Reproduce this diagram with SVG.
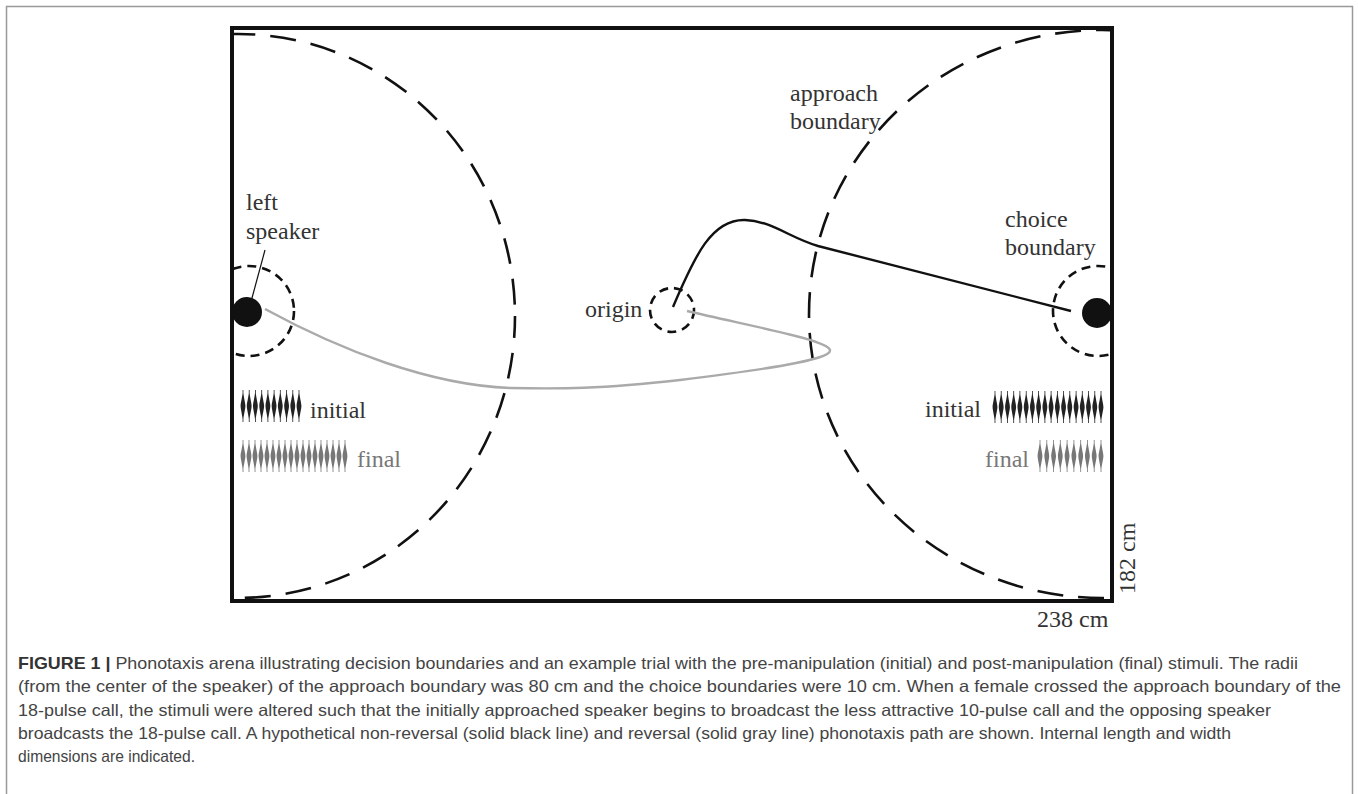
<svg xmlns="http://www.w3.org/2000/svg" width="1358" height="794" viewBox="0 0 1358 794">
<defs>
<style>
.lbl{font-family:"Liberation Serif","Times New Roman",serif;font-size:24px;fill:#333}
.fin{fill:#777}
.cap{font-family:"Liberation Sans Narrow","Liberation Sans",Arial,sans-serif;font-size:16.5px;fill:#444}
.big{fill:none;stroke:#111;stroke-width:2.6;stroke-dasharray:26 15}
.small{fill:none;stroke:#111;stroke-width:2.6;stroke-dasharray:9 6}
</style>
<clipPath id="arena"><rect x="233" y="29" width="877" height="571"/></clipPath>
<filter id="soft" x="-1" y="-0.2" width="3" height="1.4"><feGaussianBlur stdDeviation="0.45"/></filter>
<path id="p" d="M0,-16 C0.8,-8 2.4,-3 2.4,0 C2.4,3 0.8,8 0,16 C-0.8,8 -2.4,3 -2.4,0 C-2.4,-3 -0.8,-8 0,-16Z M-0.4,-16 h0.8 v32 h-0.8Z"/>
</defs>
<rect x="0" y="0" width="1358" height="794" fill="#fff"/>
<rect x="6.5" y="6.5" width="1346" height="820" fill="none" stroke="#999" stroke-width="1.5"/>

<g id="arena-box">
<rect x="232" y="28" width="880" height="573" fill="none" stroke="#111" stroke-width="4"/>
</g>

<g id="approach-boundaries" clip-path="url(#arena)">
<ellipse class="big" cx="238" cy="316" rx="277" ry="282" stroke-dashoffset="4"/>
<ellipse class="big" cx="1102" cy="314" rx="293" ry="284"/>
</g>

<g id="left-speaker">
<circle class="small" cx="249" cy="311" r="45" clip-path="url(#arena)"/>
<circle cx="247" cy="312" r="15" fill="#111"/>
<line x1="265" y1="250" x2="252" y2="298" stroke="#111" stroke-width="1.2"/>
<text class="lbl" x="246" y="210">left</text>
<text class="lbl" x="246" y="239">speaker</text>
</g>

<g id="right-speaker">
<circle class="small" cx="1098" cy="311" r="45" clip-path="url(#arena)"/>
<circle cx="1097" cy="313" r="15" fill="#111"/>
<text class="lbl" x="1005" y="227">choice</text>
<text class="lbl" x="1005" y="255">boundary</text>
</g>

<g id="origin">
<circle class="small" cx="672" cy="310" r="22" stroke-dasharray="7 5"/>
<text class="lbl" x="585" y="317">origin</text>
</g>

<g id="approach-label">
<text class="lbl" x="790" y="101">approach</text>
<text class="lbl" x="790" y="129">boundary</text>
</g>

<g id="paths">
<path d="M673,307 C695,255 712,219 745,220 C772,221 790,238 818,246 L1071,311" fill="none" stroke="#111" stroke-width="2.4"/>
<path d="M687,311 C750,326 828,340 830,350 C832,360 760,370 680,380 C600,389 560,389 510,388 C430,385 340,350 265,309" fill="none" stroke="#aaa" stroke-width="2.4"/>
</g>

<g id="left-stimuli">
<g fill="#222" filter="url(#soft)">
<use href="#p" x="243" y="406"/><use href="#p" x="249.2" y="406"/><use href="#p" x="255.4" y="406"/><use href="#p" x="261.7" y="406"/><use href="#p" x="267.9" y="406"/><use href="#p" x="274.1" y="406"/><use href="#p" x="280.3" y="406"/><use href="#p" x="286.6" y="406"/><use href="#p" x="292.8" y="406"/><use href="#p" x="299" y="406"/>
</g>
<g fill="#777" filter="url(#soft)">
<use href="#p" x="243" y="456"/><use href="#p" x="249" y="456"/><use href="#p" x="255" y="456"/><use href="#p" x="261" y="456"/><use href="#p" x="267" y="456"/><use href="#p" x="273" y="456"/><use href="#p" x="279" y="456"/><use href="#p" x="285" y="456"/><use href="#p" x="291" y="456"/><use href="#p" x="297" y="456"/><use href="#p" x="303" y="456"/><use href="#p" x="309" y="456"/><use href="#p" x="315" y="456"/><use href="#p" x="321" y="456"/><use href="#p" x="327" y="456"/><use href="#p" x="333" y="456"/><use href="#p" x="339" y="456"/><use href="#p" x="345" y="456"/>
</g>
<text class="lbl" x="310" y="418">initial</text>
<text class="lbl fin" x="357" y="467">final</text>
</g>

<g id="right-stimuli">
<g fill="#222" filter="url(#soft)">
<use href="#p" x="995" y="407"/><use href="#p" x="1001.2" y="407"/><use href="#p" x="1007.5" y="407"/><use href="#p" x="1013.7" y="407"/><use href="#p" x="1019.9" y="407"/><use href="#p" x="1026.2" y="407"/><use href="#p" x="1032.4" y="407"/><use href="#p" x="1038.6" y="407"/><use href="#p" x="1044.9" y="407"/><use href="#p" x="1051.1" y="407"/><use href="#p" x="1057.4" y="407"/><use href="#p" x="1063.6" y="407"/><use href="#p" x="1069.8" y="407"/><use href="#p" x="1076.1" y="407"/><use href="#p" x="1082.3" y="407"/><use href="#p" x="1088.5" y="407"/><use href="#p" x="1094.8" y="407"/><use href="#p" x="1101" y="407"/>
</g>
<g fill="#777" filter="url(#soft)">
<use href="#p" x="1040" y="456"/><use href="#p" x="1046.8" y="456"/><use href="#p" x="1053.6" y="456"/><use href="#p" x="1060.3" y="456"/><use href="#p" x="1067.1" y="456"/><use href="#p" x="1073.9" y="456"/><use href="#p" x="1080.7" y="456"/><use href="#p" x="1087.4" y="456"/><use href="#p" x="1094.2" y="456"/><use href="#p" x="1101" y="456"/>
</g>
<text class="lbl" x="925" y="417">initial</text>
<text class="lbl fin" x="985" y="467">final</text>
</g>

<g id="dimensions">
<text class="lbl" x="1037" y="627">238 cm</text>
<text class="lbl" transform="translate(1135,594) rotate(-90)">182 cm</text>
</g>

<g id="caption">
<text class="cap" x="18" y="669" textLength="1280" lengthAdjust="spacingAndGlyphs"><tspan font-weight="bold" fill="#333">FIGURE 1 |</tspan> Phonotaxis arena illustrating decision boundaries and an example trial with the pre-manipulation (initial) and post-manipulation (final) stimuli. The radii</text>
<text class="cap" x="18" y="692" textLength="1323" lengthAdjust="spacingAndGlyphs">(from the center of the speaker) of the approach boundary was 80 cm and the choice boundaries were 10 cm. When a female crossed the approach boundary of the</text>
<text class="cap" x="18" y="716" textLength="1253" lengthAdjust="spacingAndGlyphs">18-pulse call, the stimuli were altered such that the initially approached speaker begins to broadcast the less attractive 10-pulse call and the opposing speaker</text>
<text class="cap" x="18" y="739" textLength="1213" lengthAdjust="spacingAndGlyphs">broadcasts the 18-pulse call. A hypothetical non-reversal (solid black line) and reversal (solid gray line) phonotaxis path are shown. Internal length and width</text>
<text class="cap" x="18" y="762" textLength="177" lengthAdjust="spacingAndGlyphs">dimensions are indicated.</text>
</g>
</svg>
